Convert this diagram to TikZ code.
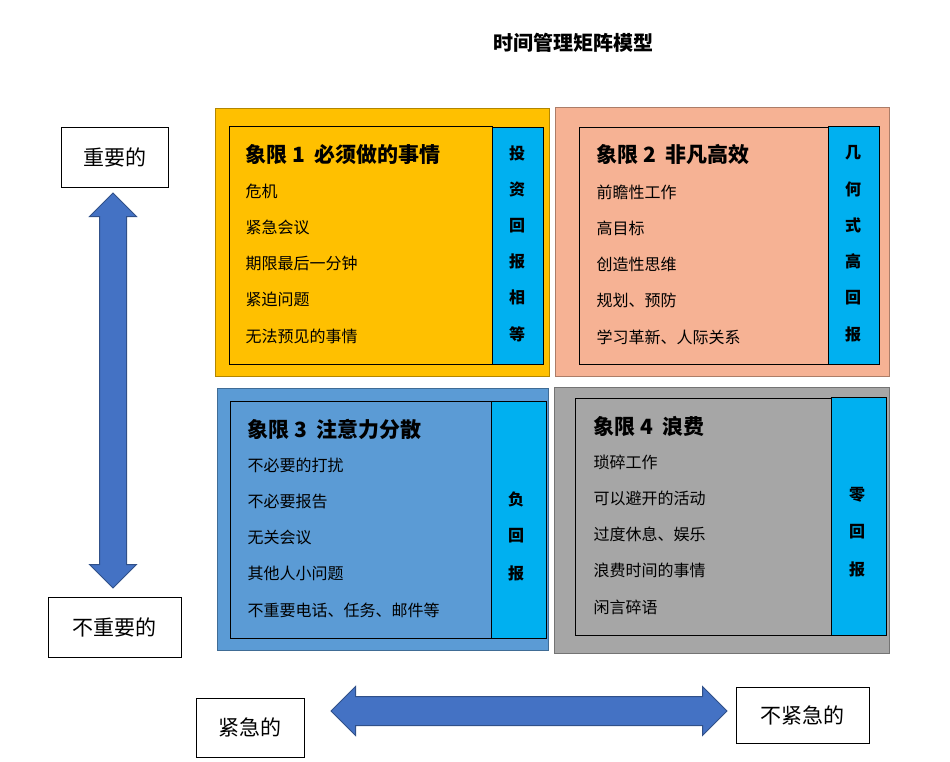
\documentclass[tikz,border=0pt]{standalone}
\usepackage{fontspec}
\setmainfont{Noto Sans CJK SC}
\usetikzlibrary{shapes.arrows}
\definecolor{qorange}{RGB}{255,192,0}
\definecolor{qsalmon}{RGB}{246,178,148}
\definecolor{qblue}{RGB}{91,155,213}
\definecolor{qgray}{RGB}{166,166,166}
\definecolor{qcyan}{RGB}{0,176,240}
\definecolor{arrowblue}{RGB}{68,114,196}
\begin{document}
\begin{tikzpicture}[x=1pt,y=-1pt]
  \tikzset{
    outer_box/.style={draw=#1!70!black, fill=#1, line width=1pt},
    inner_box/.style={draw=black, line width=1pt},
    strip_box/.style={draw=black, fill=qcyan, line width=0.8pt},
    head_text/.style={anchor=west, font=\bfseries\fontsize{21}{24}\selectfont},
    item_text/.style={anchor=west, font=\fontsize{16}{19}\selectfont},
    strip_text/.style={font=\bfseries\fontsize{16}{19}\selectfont},
    label_box/.style={draw=black, fill=white, font=\fontsize{21}{24}\selectfont},
    big_arrow/.style={double arrow, draw=arrowblue!70!black, fill=arrowblue, line width=1pt,
      double arrow head extend=10pt, inner sep=0pt, text height=#1, text depth=0pt}
  }
  \useasboundingbox (0,0) rectangle (950,762);

  \node[font=\bfseries\fontsize{20}{24}\selectfont] (title) at (573,43) {时间管理矩阵模型};

  % quadrants: outer, inner, strip
  \draw[outer_box=qorange] (215,109) rectangle (549,376);
  \draw[inner_box] (229,127) rectangle (492,364);
  \draw[strip_box] (492,127) rectangle (543,364);
  \draw[outer_box=qsalmon] (555,108) rectangle (889,376);
  \draw[inner_box] (579,128) rectangle (828,364);
  \draw[strip_box] (828,126) rectangle (879,364);
  \draw[outer_box=qblue] (217,388) rectangle (548,650);
  \draw[inner_box] (230,401) rectangle (491,638);
  \draw[strip_box] (491,401) rectangle (546,638);
  \draw[outer_box=qgray] (554,387) rectangle (889,653);
  \draw[inner_box] (575,398) rectangle (831,635);
  \draw[strip_box] (831,397) rectangle (886,635);

  \node[head_text] (h1) at (242,155) {象限 1\ \ 必须做的事情};
  \node[head_text] (h2) at (593,155) {象限 2\ \ 非凡高效};
  \node[head_text] (h3) at (244,429) {象限 3\ \ 注意力分散};
  \node[head_text] (h4) at (590,426) {象限 4\ \ 浪费};

  \foreach \t [count=\i] in {危机,紧急会议,期限最后一分钟,紧迫问题,无法预见的事情}
    \node[item_text] (a\i) at (242,191+36.3*\i-36.3) {\t};
  \foreach \t [count=\i] in {前瞻性工作,高目标,创造性思维,{规划、预防},{学习革新、人际关系}}
    \node[item_text] (b\i) at (593,192+36.3*\i-36.3) {\t};
  \foreach \t [count=\i] in {不必要的打扰,不必要报告,无关会议,其他人小问题,{不重要电话、任务、邮件等}}
    \node[item_text] (c\i) at (244,465+36.3*\i-36.3) {\t};
  \foreach \t [count=\i] in {琐碎工作,可以避开的活动,{过度休息、娱乐},浪费时间的事情,闲言碎语}
    \node[item_text] (d\i) at (590,462+36.3*\i-36.3) {\t};

  \foreach \t [count=\i] in {投,资,回,报,相,等}
    \node[strip_text] (s1\i) at (517,153+36.2*\i-36.2) {\t};
  \foreach \t [count=\i] in {几,何,式,高,回,报}
    \node[strip_text] (s2\i) at (853,153+36.2*\i-36.2) {\t};
  \foreach \t [count=\i] in {负,回,报}
    \node[strip_text] (s3\i) at (516,499+37*\i-37) {\t};
  \foreach \t [count=\i] in {零,回,报}
    \node[strip_text] (s4\i) at (857,495+37*\i-37) {\t};

  % axis labels and arrows
  \node[label_box, minimum width=107pt, minimum height=60pt] (imp) at (114.5,157) {重要的};
  \node[label_box, minimum width=133pt, minimum height=60pt] (unimp) at (114.5,627) {不重要的};
  \node[label_box, minimum width=108pt, minimum height=59pt] (urg) at (250,727.5) {紧急的};
  \node[label_box, minimum width=133pt, minimum height=56pt] (nonurg) at (802.5,715) {不紧急的};

  \node[big_arrow=26pt, minimum height=395pt, rotate=90] (varrow) at (113,390.5) {};
  \node[big_arrow=28pt, minimum height=396pt] (harrow) at (529,711) {};
\end{tikzpicture}
\end{document}
